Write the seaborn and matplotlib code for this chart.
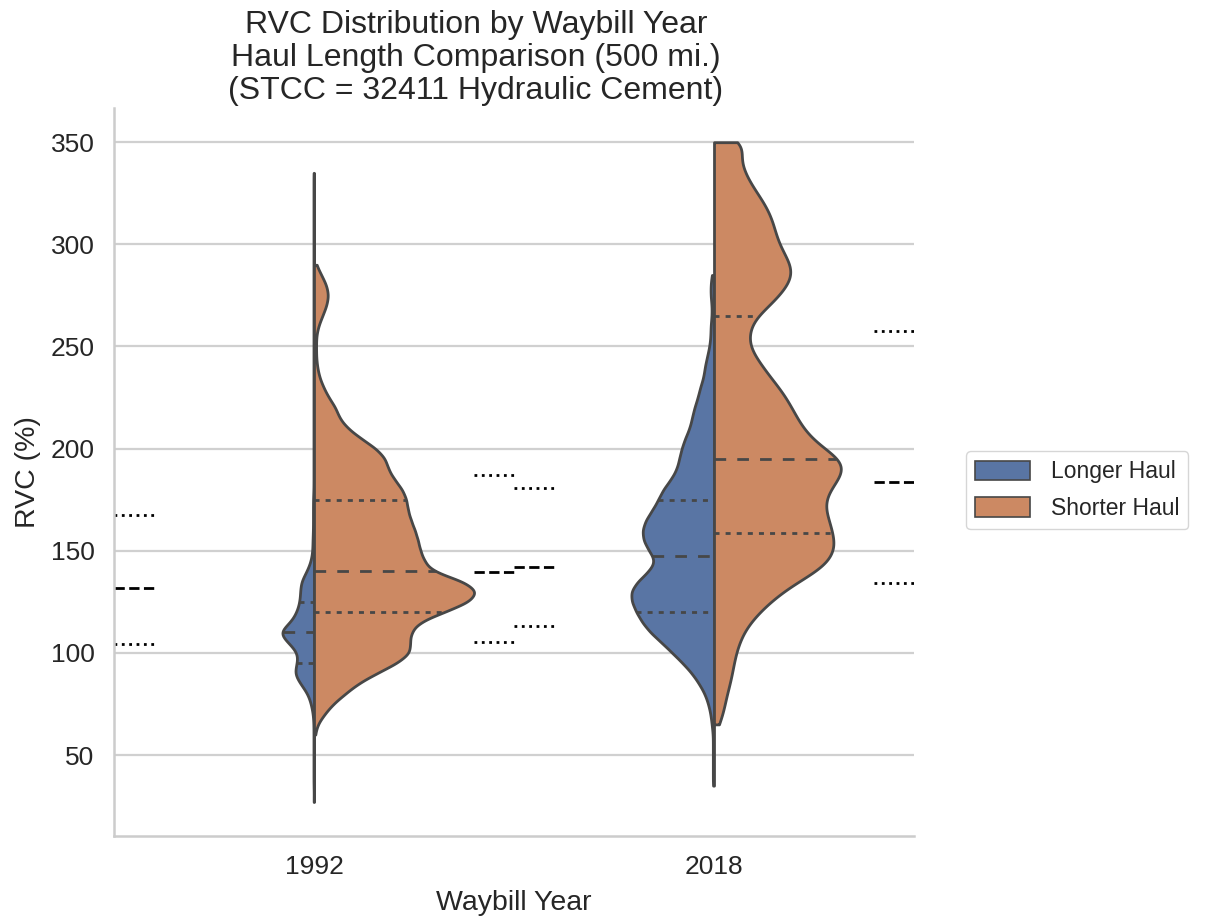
import numpy as np
import pandas as pd
import matplotlib
matplotlib.use("Agg")
import matplotlib.pyplot as plt
import seaborn as sns

# RVC (%) tallies in 5-point bins (bin value -> number of waybill records)
bins_1992_longer = [27, 35, 40, 45, 50, 55, 60, 65,
                    70, 75, 80, 85, 90, 95, 100, 105, 110, 115, 120, 125, 130, 135, 140, 145,
                    150, 155, 160, 165, 170, 175, 180, 185, 190, 195, 200, 205, 210, 215,
                    220, 225, 230, 235, 240, 245, 250, 255, 260, 265, 270, 275, 280, 285,
                    290, 295, 300, 305, 310, 315, 320, 325, 330, 335]
counts_1992_longer = [1, 1, 1, 1, 1, 1, 1, 1,
                      2, 6, 12, 27, 40, 33, 31, 50, 72, 45, 34, 28, 27, 26, 14, 6,
                      3, 3, 2, 2, 2, 2, 1, 1, 1, 1, 1, 1, 1, 1,
                      1, 1, 1, 1, 1, 1, 1, 1, 1, 1, 1, 1, 1, 1,
                      1, 1, 1, 1, 1, 1, 1, 1, 1, 1]

bins_1992_shorter = [60, 65, 70, 75, 80, 85, 90, 95, 100, 105, 110, 115, 120, 125, 130,
                     135, 140, 145, 150, 155, 160, 165, 170, 175, 180, 185, 190, 195,
                     200, 205, 210, 215, 220, 225, 230, 235, 240, 245, 250, 255, 260,
                     265, 270, 275, 280, 285, 290]
counts_1992_shorter = [1, 3, 10, 18, 30, 42, 60, 80, 93, 92, 93, 100, 125, 150, 158,
                       145, 112, 106, 102, 100, 97, 93, 90, 89, 85, 77, 71, 69,
                       60, 45, 32, 24, 21, 14, 9, 5, 3, 2, 2, 2, 4,
                       8, 12, 14, 12, 7, 2]

bins_2018_longer = [35, 40, 45, 50, 55, 60, 65, 70, 75, 80, 85, 90, 95, 100, 105, 110,
                    115, 120, 125, 130, 135, 140, 145, 150, 155, 160, 165, 170, 175,
                    180, 185, 190, 195, 200, 205, 210, 215, 220, 225, 230, 235, 240,
                    245, 250, 255, 260, 265, 270, 275, 280, 285]
counts_2018_longer = [1, 1, 1, 1, 1, 1, 2, 3, 5, 8, 13, 19, 27, 36, 45, 55,
                      62, 67, 71, 72, 66, 56, 50, 56, 61, 62, 59, 53, 48,
                      44, 37, 32, 30, 28, 25, 21, 19, 17, 14, 12, 9, 8,
                      6, 4, 3, 3, 2, 2, 3, 3, 2]

bins_2018_shorter = [65, 70, 75, 80, 85, 90, 95, 100, 105, 110, 115, 120, 125, 130, 135,
                     140, 145, 150, 155, 160, 165, 170, 175, 180, 185, 190, 195, 200,
                     205, 210, 215, 220, 225, 230, 235, 240, 245, 250, 255, 260, 265,
                     270, 275, 280, 285, 290, 295, 300, 305, 310, 315, 320, 325, 330,
                     335, 340, 345, 350]
counts_2018_shorter = [3, 5, 6, 7, 9, 10, 11, 12, 14, 16, 20, 25, 31, 38, 46,
                       58, 64, 67, 67, 65, 64, 61, 61, 64, 69, 73, 72, 60,
                       54, 49, 46, 43, 40, 36, 31, 27, 23, 19, 19, 20, 23,
                       31, 36, 41, 44, 43, 39, 36, 34, 33, 31, 28, 24, 20,
                       17, 15, 13, 23]

years = ["1992", "2018"]
hauls = ["Longer Haul", "Shorter Haul"]

# Weighted quartiles (25th, median, 75th) shown as short reference ticks
wq_1992_longer = [104.2, 131.6, 167.5]
wq_1992_shorter = [105.2, 139.7, 187.1]
wq_2018_longer = [113.1, 141.9, 180.6]
wq_2018_shorter = [134.1, 183.8, 257.7]

y_ticks = [50, 100, 150, 200, 250, 300, 350]

sns.set_theme(style="whitegrid", palette="deep")
plt.rcParams["font.family"] = ["Liberation Sans", "DejaVu Sans"]
plt.rcParams["text.color"] = "#262626"
plt.rcParams["axes.labelcolor"] = "#262626"

groups = [
    ("1992", "Longer Haul", bins_1992_longer, counts_1992_longer),
    ("1992", "Shorter Haul", bins_1992_shorter, counts_1992_shorter),
    ("2018", "Longer Haul", bins_2018_longer, counts_2018_longer),
    ("2018", "Shorter Haul", bins_2018_shorter, counts_2018_shorter),
]
frames = []
for year, haul, b, c in groups:
    vals = np.repeat(np.asarray(b, dtype=float), c)
    frames.append(pd.DataFrame({"Waybill Year": year, "Haul": haul, "RVC (%)": vals}))
df = pd.concat(frames, ignore_index=True)

fig = plt.figure(figsize=(12.08, 9.21), dpi=100)
ax = fig.add_axes([114 / 1208, 85.3 / 921, 800 / 1208, 727.4 / 921])

edge = "#474747"
sns.violinplot(
    data=df, x="Waybill Year", y="RVC (%)", hue="Haul",
    order=years, hue_order=hauls, split=True, inner="quart", cut=0,
    density_norm="count", common_norm=True, bw_method=0.08, gridsize=400,
    linewidth=2, linecolor=edge, ax=ax,
)

# quartile lines: short dashes for 25th/75th, longer dashes for the median
for i, line in enumerate(ax.lines):
    line.set_color(edge)
    line.set_linewidth(2)
    if i % 3 == 1:
        line.set_dashes((4.2, 4.0))
    else:
        line.set_dashes((1.8, 2.2))

# short reference ticks along the axis edges and the middle of the plot
spans = [(0.0, 0.05, wq_1992_longer), (0.45, 0.50, wq_1992_shorter),
         (0.50, 0.55, wq_2018_longer), (0.95, 1.0, wq_2018_shorter)]
for x0, x1, q in spans:
    for val, ls in zip(q, [":", "--", ":"]):
        ax.axhline(val, x0, x1, color="black", ls=ls, lw=2)

ax.set_ylim(10.5, 366.6)
ax.set_yticks(y_ticks)
ax.tick_params(axis="both", labelsize=19, pad=8)
ax.set_xlabel("Waybill Year", fontsize=20.5, labelpad=8)
ax.set_ylabel("RVC (%)", fontsize=20.5, labelpad=7)
ax.grid(axis="y", color="#d0d0d0", lw=1.6)
sns.despine(ax=ax)
for side in ["left", "bottom"]:
    ax.spines[side].set_color("#cccccc")
    ax.spines[side].set_linewidth(1.8)

handles, labels = ax.get_legend_handles_labels()
leg = ax.legend(handles, labels, loc="upper left",
                bbox_to_anchor=(966 / 1208, 1 - 451 / 921),
                bbox_transform=fig.transFigure, borderaxespad=0, fontsize=16.5,
                handlelength=2.4, handleheight=0.9, handletextpad=0.9,
                labelspacing=0.6, frameon=True, edgecolor="#cccccc")
for h in leg.legend_handles:
    h.set_linewidth(1.2)
    h.set_edgecolor(edge)

fig.text(476 / 1208, 1 - 10 / 921,
         "RVC Distribution by Waybill Year\nHaul Length Comparison (500 mi.)\n"
         "(STCC = 32411 Hydraulic Cement)",
         ha="center", va="top", fontsize=23, multialignment="center", linespacing=1.13)

fig.savefig("out.png", dpi=100)
